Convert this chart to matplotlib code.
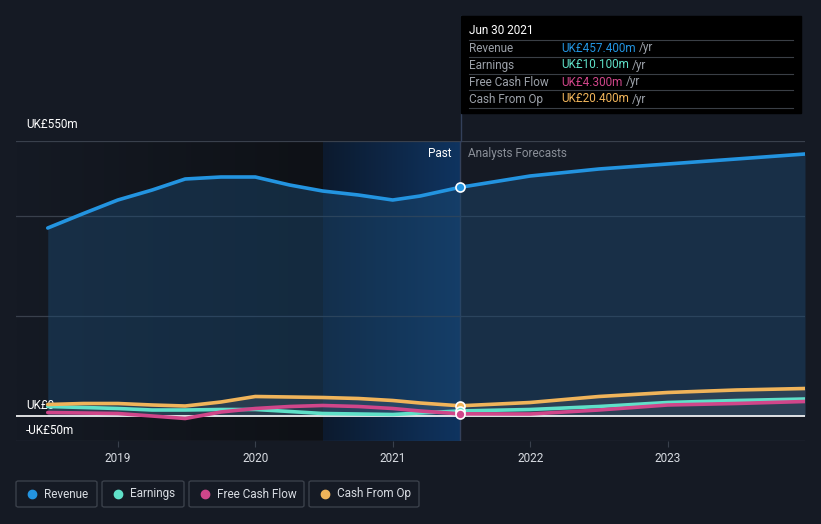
import matplotlib.pyplot as plt
from matplotlib.patches import FancyBboxPatch, Rectangle
from matplotlib.colors import LinearSegmentedColormap
import numpy as np

plt.rcParams['font.family'] = ['Roboto', 'DejaVu Sans']

# Data (UK£ m), x in decimal years
years = [2018.49, 2018.75, 2019.0, 2019.25, 2019.49, 2019.75, 2020.0, 2020.25,
         2020.49, 2020.75, 2021.0, 2021.2, 2021.49]
revenue = [376, 405, 432, 452, 474, 478, 478, 462, 450, 442, 432, 440, 457.4]
earnings = [19, 17, 15, 12, 12, 13, 13, 9, 5, 4, 3, 6, 10.1]
fcf = [7, 6, 5, 0, -5, 8, 15, 19, 21, 19, 15, 10, 4.3]
cfo = [23, 25, 25, 22, 20, 28, 39, 38, 37, 35, 31, 26, 20.4]

f_years = [2021.49, 2022.0, 2022.5, 2023.0, 2023.5, 2024.0]
f_revenue = [457.4, 480, 494, 504, 514, 524]
f_earnings = [10.1, 13, 19, 27, 31, 34]
f_fcf = [4.3, 4, 12, 22, 25, 29]
f_cfo = [20.4, 27, 39, 47, 52, 55]

tick_years = [2019, 2020, 2021, 2022, 2023]

bg = '#151a24'
c_rev = '#2394e0'
c_earn = '#5fe0c8'
c_fcf = '#d0468a'
c_cfo = '#f0b45a'

fig = plt.figure(figsize=(8.21, 5.24), dpi=100, facecolor=bg)
ax = fig.add_axes([16/821, 83/524, (805-16)/821, 300/524])
ax.set_facecolor(bg)

# past / last-year shading (gradients)
dark = LinearSegmentedColormap.from_list('dark', [bg, '#0e1116'])
blue = LinearSegmentedColormap.from_list('blue', ['#0c1a2e', '#0f3460'])
grad = np.linspace(0, 1, 256).reshape(1, -1)
ax.imshow(grad, cmap=dark, extent=[2018.259, 2020.49, -50, 550], aspect='auto', zorder=0)
ax.imshow(grad, cmap=blue, extent=[2020.49, 2021.49, -50, 550], aspect='auto', zorder=0)
ax.set_xlim(2018.259, 2024.0)
ax.set_ylim(-50, 550)

# grid lines
for g in [200, 400, 550]:
    ax.axhline(g, color='#39404c', lw=0.9, zorder=1)
ax.axhline(-50, color='#39404c', lw=0.9, zorder=1)
ax.axvline(2021.49, color='#33405a', lw=1, zorder=1)

all_x = years + f_years[1:]
all_rev = revenue + f_revenue[1:]
ax.fill_between(all_x, all_rev, 0, color='#1c4a72', alpha=0.45, lw=0, zorder=2)
ax.fill_between(all_x, cfo + f_cfo[1:], 0, color='#8a8f98', alpha=0.18, lw=0, zorder=2)

for xv, yv, c in [(years, revenue, c_rev), (f_years, f_revenue, c_rev),
                  (years, earnings, c_earn), (f_years, f_earnings, c_earn),
                  (years, fcf, c_fcf), (f_years, f_fcf, c_fcf),
                  (years, cfo, c_cfo), (f_years, f_cfo, c_cfo)]:
    ax.plot(xv, yv, color=c, lw=2.6, solid_capstyle='round', zorder=4)

ax.axhline(0, color='white', lw=1.2, zorder=3)

for v, c in [(457.4, c_rev), (20.4, c_cfo), (10.1, c_earn), (4.3, c_fcf)]:
    ax.plot(2021.49, v, 'o', ms=6.5, mfc=c, mec='white', mew=1.2, zorder=6)

ax.set_xticks(tick_years)
ax.set_xticklabels([str(t) for t in tick_years])
ax.tick_params(axis='x', colors='#39404c', labelcolor='#d8dce2', labelsize=8.5, length=4, pad=4)
ax.set_yticks([])
for s in ax.spines.values():
    s.set_visible(False)

ax.text(2018.33, 570, 'UK£550m', color='white', fontsize=8.5, va='bottom', clip_on=False)
ax.text(2018.33, 8, 'UK£0', color='white', fontsize=8.5, va='bottom')
ax.text(2018.33, -42, '-UK£50m', color='white', fontsize=8.5, va='bottom')
ax.text(2021.43, 526, 'Past', color='white', fontsize=8.5, ha='right', va='center')
ax.text(2021.55, 526, 'Analysts Forecasts', color='#8a8f98', fontsize=8.5, ha='left', va='center')

# tooltip
def fx(px): return px / 821
def fy(py): return 1 - py / 524
fig.add_artist(plt.Line2D([fx(461)] * 2, [fy(141), fy(16)], color='#33405a', lw=1,
                          transform=fig.transFigure, zorder=5))
fig.patches.append(Rectangle((fx(461), fy(113)), fx(801) - fx(461), fy(16) - fy(113),
                             transform=fig.transFigure, color='black', zorder=10))
fig.text(fx(469), fy(31), 'Jun 30 2021', color='white', fontsize=8.5, va='center', zorder=11)
rows = [('Revenue', 'UK£457.400m', c_rev), ('Earnings', 'UK£10.100m', c_earn),
        ('Free Cash Flow', 'UK£4.300m', c_fcf), ('Cash From Op', 'UK£20.400m', c_cfo)]
for i, (lab, val, c) in enumerate(rows):
    y = 48 + 17 * i
    fig.add_artist(plt.Line2D([fx(469), fx(793)], [fy(y - 8.5)] * 2, color='#3a3f46', lw=0.8,
                              transform=fig.transFigure, zorder=11))
    fig.text(fx(469), fy(y), lab, color='#9ba0a8', fontsize=8.5, va='center', zorder=11)
    t = fig.text(fx(561), fy(y), val, color=c, fontsize=8.5, va='center', zorder=11)
    fig.canvas.draw()
    bb = t.get_window_extent()
    fig.text(bb.x1 / 821 + 0.004, fy(y), '/yr', color='#9ba0a8', fontsize=8.5, va='center', zorder=11)
fig.add_artist(plt.Line2D([fx(469), fx(793)], [fy(107.5)] * 2, color='#3a3f46', lw=0.8,
                          transform=fig.transFigure, zorder=11))

# legend buttons
legend = [('Revenue', c_rev, 16, 97), ('Earnings', c_earn, 102, 184),
          ('Free Cash Flow', c_fcf, 189, 304), ('Cash From Op', c_cfo, 309, 419)]
for lab, c, x0, x1 in legend:
    fig.patches.append(FancyBboxPatch((fx(x0), fy(507)), fx(x1) - fx(x0), fy(481) - fy(507),
                                      boxstyle='round,pad=0,rounding_size=0.003',
                                      transform=fig.transFigure, fc='none', ec='#3a404a', lw=1))
    fig.add_artist(plt.Line2D([fx(x0 + 16)], [fy(494)], marker='o', ms=6, color=c, lw=0,
                              transform=fig.transFigure))
    fig.text(fx(x0 + 28), fy(494), lab, color='#d8dce2', fontsize=8.5, va='center')

fig.savefig('out.png', dpi=100, facecolor=bg)
